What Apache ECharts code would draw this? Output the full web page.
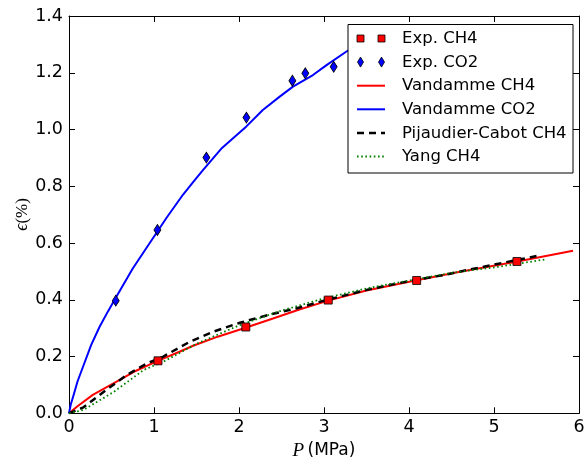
<!DOCTYPE html>
<html>
<head>
<meta charset="utf-8">
<script src="https://cdn.jsdelivr.net/npm/echarts@6/dist/echarts.min.js"></script>
<style>
  html, body { margin: 0; padding: 0; background: #fff; }
  #chart { width: 586px; height: 461px; }
</style>
</head>
<body>
<div id="chart"></div>
<script>
// Swelling strain of coal versus gas pressure: measurements and model fits

// Axis ticks
const xTickValues = [0, 1, 2, 3, 4, 5, 6];
const yTickValues = [0.0, 0.2, 0.4, 0.6, 0.8, 1.0, 1.2, 1.4];

// Experimental points, CH4
const expCh4P   = [1.047, 2.08, 3.05, 4.09, 5.27];
const expCh4Eps = [0.185, 0.304, 0.399, 0.468, 0.535];

// Experimental points, CO2
const expCo2P   = [0.55, 1.04, 1.616, 2.087, 2.628, 2.78, 3.114];
const expCo2Eps = [0.397, 0.646, 0.901, 1.042, 1.172, 1.198, 1.221];

// Vandamme model, CH4
const vanCh4P   = [0, 0.1, 0.28, 0.56, 0.79, 1.03, 1.3, 1.46, 1.75, 2.05, 2.4, 2.71, 3.05, 3.5, 4.09, 4.6, 5.26, 5.93];
const vanCh4Eps = [0, 0.025, 0.065, 0.112, 0.15, 0.183, 0.217, 0.238, 0.27, 0.299, 0.334, 0.366, 0.397, 0.433, 0.469, 0.499, 0.534, 0.573];

// Vandamme model, CO2
const vanCo2P   = [0, 0.02, 0.05, 0.1, 0.165, 0.26, 0.36, 0.46, 0.557, 0.75, 0.95, 1.15, 1.34, 1.479, 1.576, 1.8, 2.087, 2.28, 2.479, 2.635, 2.87, 3.03, 3.26, 3.4];
const vanCo2Eps = [0, 0.03, 0.06, 0.112, 0.164, 0.24, 0.305, 0.36, 0.411, 0.51, 0.6, 0.69, 0.77, 0.822, 0.857, 0.935, 1.011, 1.069, 1.116, 1.151, 1.192, 1.227, 1.274, 1.3];

// Pijaudier-Cabot model, CH4
const pcCh4P   = [0, 0.17, 0.41, 0.68, 0.92, 1.11, 1.42, 1.7, 2.01, 2.35, 2.68, 3.0, 3.5, 4.0, 4.4, 5.0, 5.5];
const pcCh4Eps = [0, 0.021, 0.076, 0.135, 0.176, 0.2, 0.252, 0.288, 0.319, 0.347, 0.37, 0.397, 0.435, 0.466, 0.487, 0.524, 0.554];

// Yang model, CH4
const yangCh4P   = [0, 0.17, 0.53, 0.88, 1.11, 1.5, 2.01, 2.5, 2.71, 3.0, 3.5, 4.0, 4.5, 5.07, 5.62];
const yangCh4Eps = [0, 0.012, 0.076, 0.153, 0.182, 0.245, 0.311, 0.362, 0.38, 0.405, 0.44, 0.468, 0.495, 0.517, 0.543];

// Series names, in legend order
const seriesNames = ['Exp. CH4', 'Exp. CO2', 'Vandamme CH4', 'Vandamme CO2', 'Pijaudier-Cabot CH4', 'Yang CH4'];

const zip = (xs, ys) => xs.map((x, i) => [x, ys[i]]);

const SANS = '"DejaVu Sans", sans-serif';
const SERIF = '"Liberation Serif", "DejaVu Serif", serif';

const styles = {
  'Exp. CH4':            { kind: 'square',  color: '#ff0000' },
  'Exp. CO2':            { kind: 'diamond', color: '#0000ff' },
  'Vandamme CH4':        { kind: 'line', color: '#ff0000', width: 2,   dash: null },
  'Vandamme CO2':        { kind: 'line', color: '#0000ff', width: 2,   dash: null },
  'Pijaudier-Cabot CH4': { kind: 'line', color: '#000000', width: 2.5, dash: [7, 5] },
  'Yang CH4':            { kind: 'line', color: '#008000', width: 1.8, dash: [1.6, 2.6] }
};

function lineSeries(name, xs, ys, z) {
  const s = styles[name];
  return {
    name, type: 'line', data: zip(xs, ys), z,
    symbol: 'none', smooth: false, silent: true,
    lineStyle: { color: s.color, width: s.width, type: s.dash || 'solid', cap: 'butt' }
  };
}

// Legend drawn as graphic elements inside a framed box
const legendBox = { x: 348, y: 24.5, w: 225, h: 148.5, row0: 38.5, rowStep: 23.6, sampleX0: 357, sampleX1: 385, textX: 402 };
const legendGraphics = [{
  type: 'rect', z: 100,
  shape: { x: legendBox.x, y: legendBox.y, width: legendBox.w, height: legendBox.h },
  style: { fill: '#fff', stroke: '#000', lineWidth: 1 }
}];
seriesNames.forEach((name, i) => {
  const cy = legendBox.row0 + legendBox.rowStep * i;
  const s = styles[name];
  const cxs = [legendBox.sampleX0 + 3.5, legendBox.sampleX1 - 3.5];
  if (s.kind === 'square') {
    cxs.forEach(cx => legendGraphics.push({
      type: 'rect', z: 101,
      shape: { x: cx - 3.5, y: cy - 3.5, width: 7, height: 7 },
      style: { fill: s.color, stroke: '#000', lineWidth: 0.8 }
    }));
  } else if (s.kind === 'diamond') {
    cxs.forEach(cx => legendGraphics.push({
      type: 'polygon', z: 101,
      shape: { points: [[cx, cy - 5], [cx + 3, cy], [cx, cy + 5], [cx - 3, cy]] },
      style: { fill: s.color, stroke: '#000', lineWidth: 0.8 }
    }));
  } else {
    legendGraphics.push({
      type: 'line', z: 101,
      shape: { x1: legendBox.sampleX0, y1: cy, x2: legendBox.sampleX1, y2: cy },
      style: { stroke: s.color, lineWidth: s.width, lineDash: s.dash || null, lineCap: 'butt' }
    });
  }
  legendGraphics.push({
    type: 'text', z: 101,
    style: { text: name, x: legendBox.textX, y: cy + 0.5, verticalAlign: 'middle', fill: '#000', font: '16.5px ' + SANS }
  });
});

// Vertical axis title, rotated, centred on the plot height
legendGraphics.push({
  type: 'text', z: 10, x: 22.5, y: 214.5, rotation: Math.PI / 2,
  style: {
    text: '{e|ϵ}{p|(%)}', align: 'center', verticalAlign: 'middle', fill: '#000',
    rich: {
      e: { fontFamily: SERIF, fontStyle: 'italic', fontSize: 18, fill: '#000' },
      p: { fontFamily: SERIF, fontSize: 17, fill: '#000' }
    }
  }
});

const tickStyle = { show: true, inside: true, length: 6, lineStyle: { color: '#000', width: 1 } };
const frameLine = { show: true, onZero: false, lineStyle: { color: '#000', width: 1 } };

const chart = echarts.init(document.getElementById('chart'), null, { renderer: 'canvas' });
chart.setOption({
  animation: false,
  backgroundColor: '#fff',
  grid: { left: 69, right: 7, top: 16, bottom: 47.7, containLabel: false, outerBoundsMode: 'none' },
  xAxis: [{
    type: 'value', position: 'bottom',
    min: xTickValues[0], max: xTickValues[xTickValues.length - 1], interval: 1,
    axisLine: frameLine, axisTick: tickStyle, splitLine: { show: false },
    axisLabel: { color: '#000', fontSize: 17.5, fontFamily: SANS, margin: 5, formatter: v => String(v) },
    name: '{i|P} {n|(MPa)}', nameLocation: 'middle', nameGap: 27,
    nameTextStyle: {
      color: '#000',
      rich: {
        i: { fontFamily: SERIF, fontStyle: 'italic', fontSize: 19, color: '#000' },
        n: { fontFamily: SANS, fontSize: 17, color: '#000' }
      }
    }
  }, {
    type: 'value', position: 'top',
    min: xTickValues[0], max: xTickValues[xTickValues.length - 1], interval: 1,
    axisLine: frameLine, axisTick: tickStyle, splitLine: { show: false }, axisLabel: { show: false }
  }],
  yAxis: [{
    type: 'value', position: 'left',
    min: yTickValues[0], max: yTickValues[yTickValues.length - 1], interval: 0.2,
    axisLine: frameLine, axisTick: tickStyle, splitLine: { show: false },
    axisLabel: { color: '#000', fontSize: 17.5, fontFamily: SANS, margin: 6, formatter: v => v.toFixed(1) }
  }, {
    type: 'value', position: 'right',
    min: yTickValues[0], max: yTickValues[yTickValues.length - 1], interval: 0.2,
    axisLine: frameLine, axisTick: tickStyle, splitLine: { show: false }, axisLabel: { show: false }
  }],
  series: [
    lineSeries('Vandamme CH4', vanCh4P, vanCh4Eps, 3),
    lineSeries('Vandamme CO2', vanCo2P, vanCo2Eps, 3),
    lineSeries('Pijaudier-Cabot CH4', pcCh4P, pcCh4Eps, 4),
    lineSeries('Yang CH4', yangCh4P, yangCh4Eps, 4),
    {
      name: 'Exp. CH4', type: 'scatter', data: zip(expCh4P, expCh4Eps), z: 5,
      symbol: 'rect', symbolSize: 8,
      itemStyle: { color: styles['Exp. CH4'].color, borderColor: '#000', borderWidth: 0.8, opacity: 1 }
    },
    {
      name: 'Exp. CO2', type: 'scatter', data: zip(expCo2P, expCo2Eps), z: 5,
      symbol: 'diamond', symbolSize: [7, 11],
      itemStyle: { color: styles['Exp. CO2'].color, borderColor: '#000', borderWidth: 0.8, opacity: 1 }
    }
  ],
  graphic: { elements: legendGraphics }
});
</script>
</body>
</html>
